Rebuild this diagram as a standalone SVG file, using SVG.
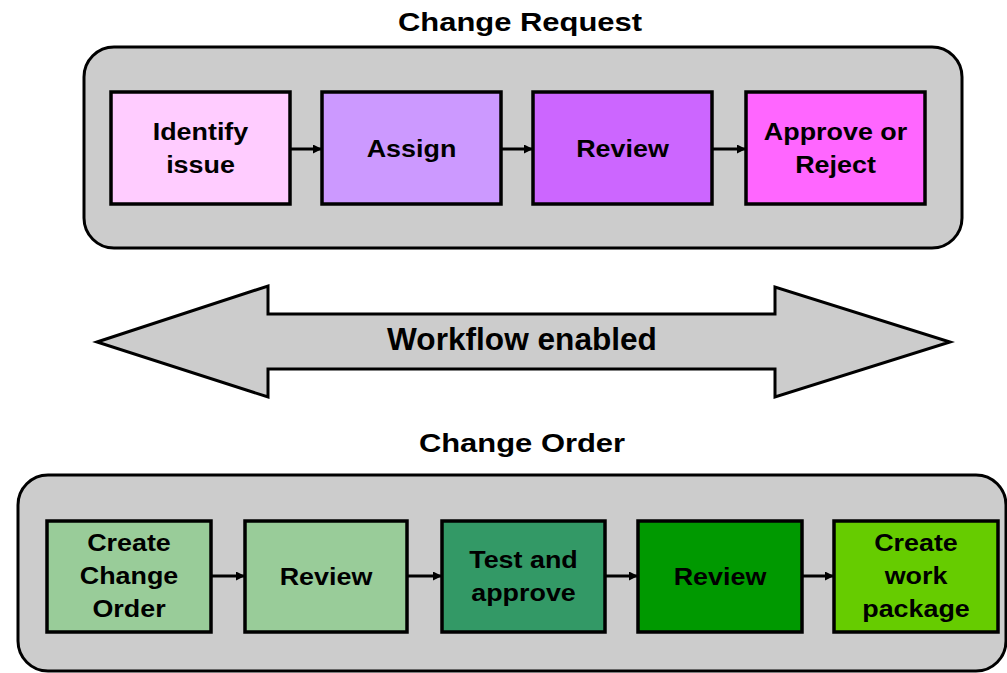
<svg xmlns="http://www.w3.org/2000/svg" width="1007" height="673" viewBox="0 0 1007 673">
<defs>
<style>
.bg{fill:#ffffff}
.panel{fill:#cccccc;stroke:#000000;stroke-width:3}
.box{stroke:#000000;stroke-width:3.5}
.conn{stroke:#000000;stroke-width:3;fill:none}
.lbl{font-family:"Liberation Sans",Arial,sans-serif;font-weight:bold;font-size:24px;fill:#000000;text-anchor:middle}
.title{font-family:"Liberation Sans",Arial,sans-serif;font-weight:bold;font-size:26px;fill:#000000;text-anchor:middle}
.wf{font-family:"Liberation Sans",Arial,sans-serif;font-weight:bold;font-size:31px;fill:#000000;text-anchor:middle}
</style>
<marker id="ah" viewBox="0 0 10 10" refX="10" refY="5" markerWidth="11" markerHeight="9" markerUnits="userSpaceOnUse" orient="auto">
<path d="M0,0 L10,5 L0,10 z" fill="#000000"/>
</marker>
</defs>
<rect class="bg" x="0" y="0" width="1007" height="673"/>

<g id="change-request">
<text class="title" transform="translate(520,31) scale(1.19,1)" x="0" y="0">Change Request</text>
<rect class="panel" x="84" y="47" width="878" height="201" rx="30" ry="30"/>
</g>

<g id="change-order">
<text class="title" transform="translate(522,452) scale(1.19,1)" x="0" y="0">Change Order</text>
<rect class="panel" x="18" y="475" width="988" height="196" rx="30" ry="30"/>
</g>

<g id="workflow">
<polygon class="panel" points="97,342 268,286 268,314 775,314 775,287 950,342 775,397 775,369 268,369 268,397"/>
<text class="wf" transform="translate(522,350) scale(1.02,1)" x="0" y="0">Workflow enabled</text>
</g>

<g id="connectors">
<line class="conn" x1="290" y1="149" x2="322" y2="149" marker-end="url(#ah)"/>
<line class="conn" x1="501" y1="149" x2="533" y2="149" marker-end="url(#ah)"/>
<line class="conn" x1="712" y1="149" x2="746" y2="149" marker-end="url(#ah)"/>
<line class="conn" x1="211" y1="576" x2="245" y2="576" marker-end="url(#ah)"/>
<line class="conn" x1="407" y1="576" x2="442" y2="576" marker-end="url(#ah)"/>
<line class="conn" x1="605" y1="576" x2="638" y2="576" marker-end="url(#ah)"/>
<line class="conn" x1="802" y1="576" x2="834" y2="576" marker-end="url(#ah)"/>
</g>

<g id="identify-issue">
<rect class="box" x="111" y="92" width="179" height="112" fill="#ffccff"/>
<text class="lbl" transform="translate(200.5,0) scale(1.12,1)"><tspan x="0" y="140">Identify</tspan><tspan x="0" y="173">issue</tspan></text>
</g>
<g id="assign">
<rect class="box" x="322" y="92" width="179" height="112" fill="#cc99ff"/>
<text class="lbl" transform="translate(411.5,0) scale(1.12,1)"><tspan x="0" y="157">Assign</tspan></text>
</g>
<g id="review-cr">
<rect class="box" x="533" y="92" width="179" height="112" fill="#cc66ff"/>
<text class="lbl" transform="translate(622.5,0) scale(1.12,1)"><tspan x="0" y="157">Review</tspan></text>
</g>
<g id="approve-reject">
<rect class="box" x="746" y="92" width="179" height="112" fill="#ff66ff"/>
<text class="lbl" transform="translate(835.5,0) scale(1.12,1)"><tspan x="0" y="140">Approve or</tspan><tspan x="0" y="173">Reject</tspan></text>
</g>

<g id="create-change-order">
<rect class="box" x="47" y="521" width="164" height="111" fill="#99cc99"/>
<text class="lbl" transform="translate(129,0) scale(1.12,1)"><tspan x="0" y="551">Create</tspan><tspan x="0" y="584">Change</tspan><tspan x="0" y="617">Order</tspan></text>
</g>
<g id="review-co1">
<rect class="box" x="245" y="521" width="162" height="111" fill="#99cc99"/>
<text class="lbl" transform="translate(326,0) scale(1.12,1)"><tspan x="0" y="585">Review</tspan></text>
</g>
<g id="test-approve">
<rect class="box" x="442" y="521" width="163" height="111" fill="#339966"/>
<text class="lbl" transform="translate(523.5,0) scale(1.12,1)"><tspan x="0" y="568">Test and</tspan><tspan x="0" y="601">approve</tspan></text>
</g>
<g id="review-co2">
<rect class="box" x="638" y="521" width="164" height="111" fill="#009900"/>
<text class="lbl" transform="translate(720,0) scale(1.12,1)"><tspan x="0" y="585">Review</tspan></text>
</g>
<g id="create-work-package">
<rect class="box" x="834" y="521" width="164" height="111" fill="#66cc00"/>
<text class="lbl" transform="translate(916,0) scale(1.12,1)"><tspan x="0" y="551">Create</tspan><tspan x="0" y="584">work</tspan><tspan x="0" y="617">package</tspan></text>
</g>
</svg>
